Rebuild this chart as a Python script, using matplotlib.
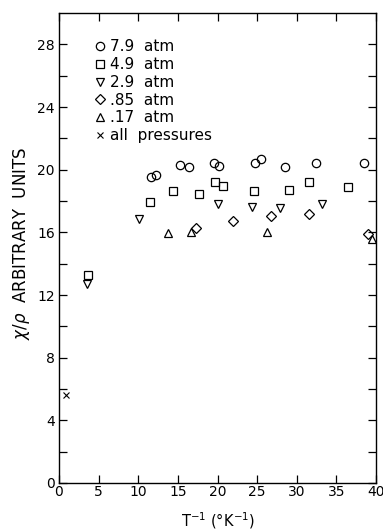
import numpy as np
import matplotlib
matplotlib.use("Agg")
import matplotlib.pyplot as plt
from matplotlib.lines import Line2D

# data (x: 1/T in 1/K, y: chi/rho arbitrary units)
x_79 = [11.6, 12.2, 15.3, 16.4, 19.5, 20.2, 24.7, 25.5, 28.5, 32.4, 38.5]
y_79 = [19.55, 19.65, 20.3, 20.2, 20.4, 20.25, 20.4, 20.7, 20.2, 20.4, 20.4]

x_49 = [3.6, 11.5, 14.4, 17.7, 19.7, 20.7, 24.6, 29.0, 31.5, 36.5]
y_49 = [13.3, 17.95, 18.65, 18.45, 19.2, 18.95, 18.65, 18.7, 19.2, 18.9]

x_29 = [3.5, 10.1, 20.0, 24.4, 27.9, 33.2]
y_29 = [12.7, 16.85, 17.8, 17.6, 17.55, 17.8]

x_085 = [17.3, 21.9, 26.8, 31.5, 39.0]
y_085 = [16.3, 16.7, 17.05, 17.2, 15.9]

x_017 = [13.7, 16.7, 26.2, 39.5]
y_017 = [15.95, 16.0, 16.05, 15.6]

x_all = [0.9]
y_all = [5.6]

series = [
    (x_79, y_79, 'o', '7.9  atm'),
    (x_49, y_49, 's', '4.9  atm'),
    (x_29, y_29, 'v', '2.9  atm'),
    (x_085, y_085, 'D', '.85  atm'),
    (x_017, y_017, '^', '.17  atm'),
]

fig = plt.figure(figsize=(3.83, 5.31), dpi=100)
ax = fig.add_axes([0.154, 0.0904, 0.828, 0.885])

handles = []
for xs, ys, m, lab in series:
    ms = 5.0 if m == 'D' else 6
    ax.plot(xs, ys, linestyle='none', marker=m, ms=ms, mfc='none',
            mec='black', mew=0.9, clip_on=False)
    handles.append(Line2D([], [], linestyle='none', marker=m, ms=ms,
                          mfc='none', mec='black', mew=0.9, label=lab))

ax.plot(x_all, y_all, linestyle='none', marker='x', ms=4, color='black', mew=0.8)
handles.append(Line2D([], [], linestyle='none', marker='x', ms=4,
                      color='black', mew=0.8, label='all  pressures'))

ax.legend(handles=handles, loc='upper left', bbox_to_anchor=(0.09, 0.957),
          frameon=False, fontsize=11, handlelength=0.8, handletextpad=0.3,
          labelspacing=0.18, borderaxespad=0)

ax.set_xlim(0, 40)
ax.set_ylim(0, 30)
ax.set_xticks(np.arange(0, 41, 5))
ax.set_yticks(np.arange(0, 29, 4))
ax.set_yticks(np.arange(2, 30, 4), minor=True)
ax.tick_params(axis='both', which='both', direction='in', top=True,
               right=True, labelsize=10, length=6, width=0.9)
ax.tick_params(axis='x', pad=1.5)
ax.tick_params(axis='y', pad=3)

for sp in ax.spines.values():
    sp.set_linewidth(1.0)

ax.set_ylabel(r'$\chi/\rho$  ARBITRARY  UNITS', fontsize=12)
ax.yaxis.set_label_coords(-0.085, 0.51)
ax.set_xlabel(r'T$^{-1}$ ($\degree$K$^{-1}$)', fontsize=10.5, labelpad=8)

fig.savefig('out.png', dpi=100)
